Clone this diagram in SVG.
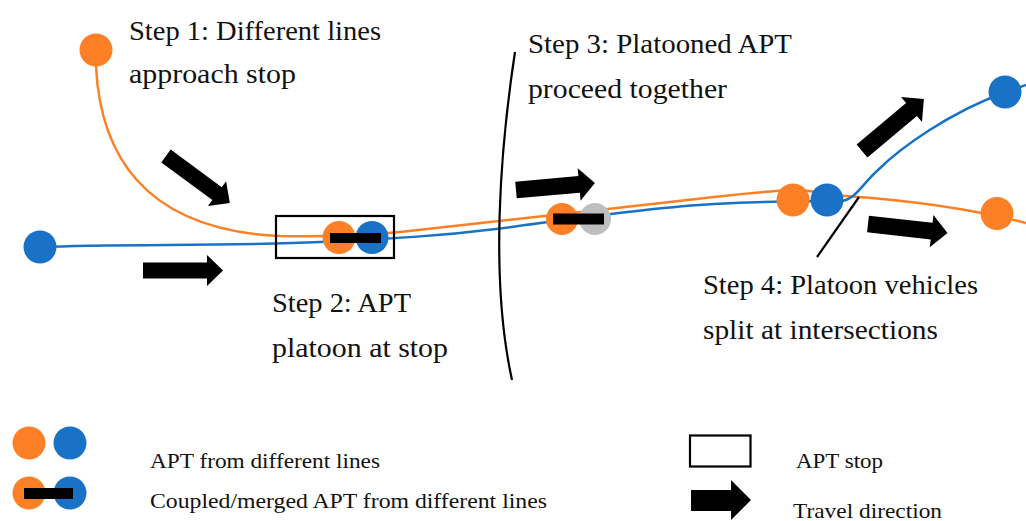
<svg xmlns="http://www.w3.org/2000/svg" width="1026" height="521" viewBox="0 0 1026 521">
<style>
.bg{fill:#ffffff}
.or{fill:#FD8026}
.bl{fill:#1A72C7}
.gr{fill:#BEBEBE}
.bar{fill:#000000}
.lor{fill:none;stroke:#FD8026;stroke-width:2.5}
.lbl{fill:none;stroke:#1A72C7;stroke-width:2.5}
.sep{fill:none;stroke:#000000;stroke-width:2.2}
.box{fill:none;stroke:#000000;stroke-width:2.2}
.arr{fill:#000000}
.t{font-family:"Liberation Serif","Times New Roman",serif;font-size:27px;fill:#111111}
.s{font-family:"Liberation Serif","Times New Roman",serif;font-size:21px;fill:#111111}
</style>
<defs>
<path id="arrow" d="M0,-8 H64 V-15.5 L80,0 L64,15.5 V8 H0 Z"/>
</defs>
<rect class="bg" x="0" y="0" width="1026" height="521"/>

<g id="connectors">
<path class="lor" d="M96,66 C100,150 140,230 280,236 C330,237 360,236 400,232 S600,210 714,197 S800,193 845,196 S960,206 1026,223"/>
<path class="lbl" d="M40,247 C120,244 240,246 320,242 S440,236 496,229 S640,208 714,204 S800,202 842,201 C856,199 864,182 878,170 C900,148 950,112 1006,92 L1026,85"/>
<path class="sep" d="M515,52 C500,150 490,280 512,380"/>
<path class="sep" d="M817,257 Q840,224 859,197"/>
<use href="#arrow" class="arr" transform="translate(143,270.5)"/>
<use href="#arrow" class="arr" transform="translate(166,156) rotate(36.3) scale(0.99)"/>
<use href="#arrow" class="arr" transform="translate(516,190) rotate(-5) scale(0.99,1.05)"/>
<use href="#arrow" class="arr" transform="translate(862,151) rotate(-40) scale(1.01,1.05)"/>
<use href="#arrow" class="arr" transform="translate(868,224) rotate(6.4) scale(1.0,1.05)"/>
</g>

<g id="start-orange"><circle class="or" cx="96" cy="50" r="16.5"/></g>
<g id="start-blue"><circle class="bl" cx="40" cy="247" r="16.5"/></g>

<g id="stop">
<rect class="box" x="276" y="216" width="118" height="42"/>
<circle class="or" cx="339" cy="237.5" r="16.5"/>
<circle class="bl" cx="372" cy="237.5" r="16.5"/>
<rect class="bar" x="330" y="233" width="51" height="10"/>
</g>

<g id="platoon-moving">
<circle class="or" cx="562" cy="219" r="16"/>
<circle class="gr" cx="595" cy="219" r="16"/>
<rect class="bar" x="553" y="213.5" width="51" height="11"/>
</g>

<g id="split">
<circle class="or" cx="793" cy="200" r="16.5"/>
<circle class="bl" cx="827" cy="200" r="16.5"/>
<circle class="or" cx="997" cy="213.5" r="16.5"/>
<circle class="bl" cx="1005" cy="92" r="16.5"/>
</g>

<g id="step1">
<text class="t" x="129" y="39.5" textLength="252" lengthAdjust="spacingAndGlyphs">Step 1: Different lines</text>
<text class="t" x="129" y="83" textLength="167" lengthAdjust="spacingAndGlyphs">approach stop</text>
</g>
<g id="step2">
<text class="t" x="272" y="311.5" textLength="139" lengthAdjust="spacingAndGlyphs">Step 2: APT</text>
<text class="t" x="272" y="356.5" textLength="176" lengthAdjust="spacingAndGlyphs">platoon at stop</text>
</g>
<g id="step3">
<text class="t" x="528" y="53" textLength="264" lengthAdjust="spacingAndGlyphs">Step 3: Platooned APT</text>
<text class="t" x="528" y="98" textLength="199" lengthAdjust="spacingAndGlyphs">proceed together</text>
</g>
<g id="step4">
<text class="t" x="703" y="294" textLength="275" lengthAdjust="spacingAndGlyphs">Step 4: Platoon vehicles</text>
<text class="t" x="703" y="339" textLength="235" lengthAdjust="spacingAndGlyphs">split at intersections</text>
</g>

<g id="legend">
<circle class="or" cx="29" cy="443" r="16.5"/>
<circle class="bl" cx="70" cy="443" r="16.5"/>
<circle class="or" cx="29" cy="493" r="16.5"/>
<circle class="bl" cx="70" cy="493" r="16.5"/>
<rect class="bar" x="24" y="488" width="49" height="11"/>
<text class="s" x="150" y="468" textLength="230" lengthAdjust="spacingAndGlyphs">APT from different lines</text>
<text class="s" x="150" y="508" textLength="397" lengthAdjust="spacingAndGlyphs">Coupled/merged APT from different lines</text>
<rect class="box" x="690" y="435.5" width="60.5" height="31"/>
<text class="s" x="796" y="468" textLength="87" lengthAdjust="spacingAndGlyphs">APT stop</text>
<path class="arr" d="M691,490 H731 V480 L751,500 L731,520 V511 H691 Z"/>
<text class="s" x="793" y="518" textLength="149" lengthAdjust="spacingAndGlyphs">Travel direction</text>
</g>
</svg>
